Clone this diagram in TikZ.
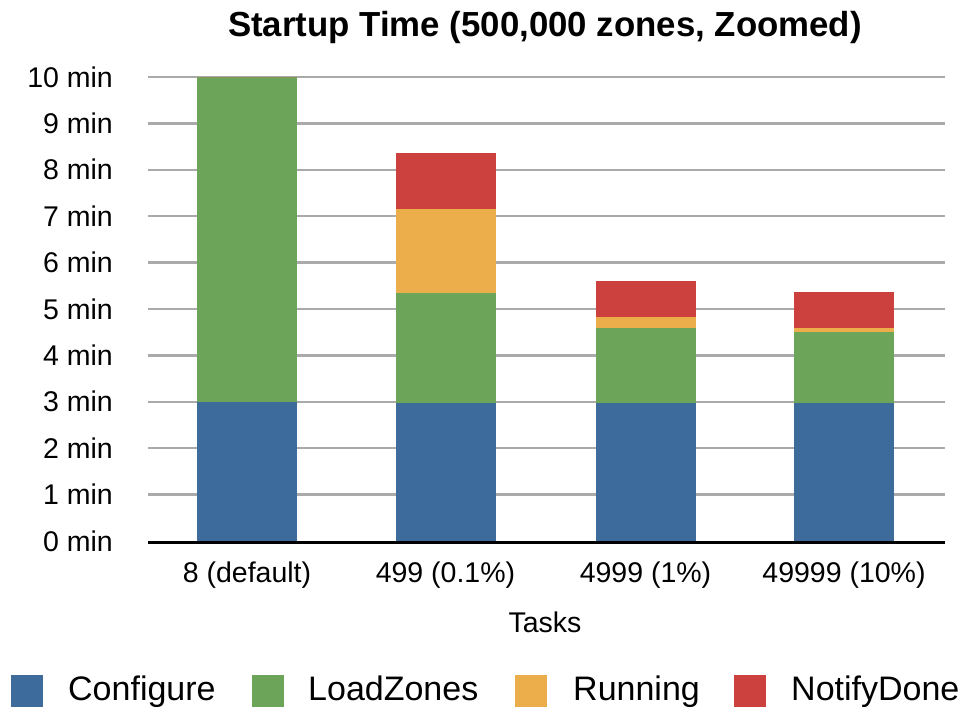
\documentclass[tikz,border=0pt]{standalone}
\usepackage{fontspec}
\setmainfont{Liberation Sans}
\definecolor{cfgBlue}{RGB}{61,108,156}
\definecolor{loadGreen}{RGB}{108,164,89}
\definecolor{runOrange}{RGB}{236,174,74}
\definecolor{notifyRed}{RGB}{204,65,62}
\definecolor{gridGray}{RGB}{170,170,170}

\begin{document}
\begin{tikzpicture}[
  x=1pt, y=-1pt,
  every node/.style={inner sep=0pt, font=\fontsize{28.5}{28.5}\selectfont},
  legendkey/.style={minimum width=32pt, minimum height=32pt},
  legendtext/.style={font=\fontsize{34}{34}\selectfont, anchor=base west},
]
\useasboundingbox (0,0) rectangle (962,708);

% Title
\node[font=\fontsize{34.8}{34.8}\selectfont\bfseries, anchor=base] (title) at (545,37)
  {Startup Time (500,000 zones, Zoomed)};

% Grid lines and y labels: 0 min at y=541, 1 min = 46.4
\foreach \m in {1,...,10}{
  \pgfmathsetmacro\gy{541-46.4*\m}
  \draw[gridGray, line width=2.5pt] (148,\gy) -- (945,\gy);
}
\foreach \m in {0,...,10}{
  \pgfmathsetmacro\gy{541-46.4*\m}
  \node[anchor=east] (ylab\m) at (113,\gy) {\m\ min};
}

% Stacked bars (cumulative tops: Configure/LoadZones/Running/NotifyDone)
\foreach \cx/\a/\b/\c/\d in {247/3/10/10/10, 445.5/2.97/5.34/7.16/8.36,
                             645.5/2.98/4.59/4.83/5.60, 844/2.98/4.50/4.59/5.37}{
  \pgfmathsetmacro\ya{541-46.4*\a}
  \pgfmathsetmacro\yb{541-46.4*\b}
  \pgfmathsetmacro\yc{541-46.4*\c}
  \pgfmathsetmacro\yd{541-46.4*\d}
  \fill[cfgBlue]    (\cx-50,541) rectangle (\cx+50,\ya);
  \fill[loadGreen]  (\cx-50,\ya) rectangle (\cx+50,\yb);
  \fill[runOrange]  (\cx-50,\yb) rectangle (\cx+50,\yc);
  \fill[notifyRed]  (\cx-50,\yc) rectangle (\cx+50,\yd);
}

% X axis
\draw[line width=3pt] (148,542.5) -- (945,542.5);
\foreach \i/\cx/\lab in {1/247/{8 (default)}, 2/445.5/{499 (0.1\%)},
                         3/645.5/{4999 (1\%)}, 4/844/{49999 (10\%)}}{
  \node[anchor=base] (xlab\i) at (\cx,583) {\lab};
}
\node[anchor=base] (xtitle) at (545,632) {Tasks};

% Legend
\foreach \k/\col/\kx/\tx/\name in {cfg/cfgBlue/27/68/Configure, load/loadGreen/268/308/LoadZones,
                                   run/runOrange/531/573/Running, note/notifyRed/750/791/NotifyDone}{
  \node[legendkey, fill=\col] (key\k) at (\kx,690.5) {};
  \node[legendtext] (lab\k) at (\tx,700) {\name};
}

\end{tikzpicture}
\end{document}
